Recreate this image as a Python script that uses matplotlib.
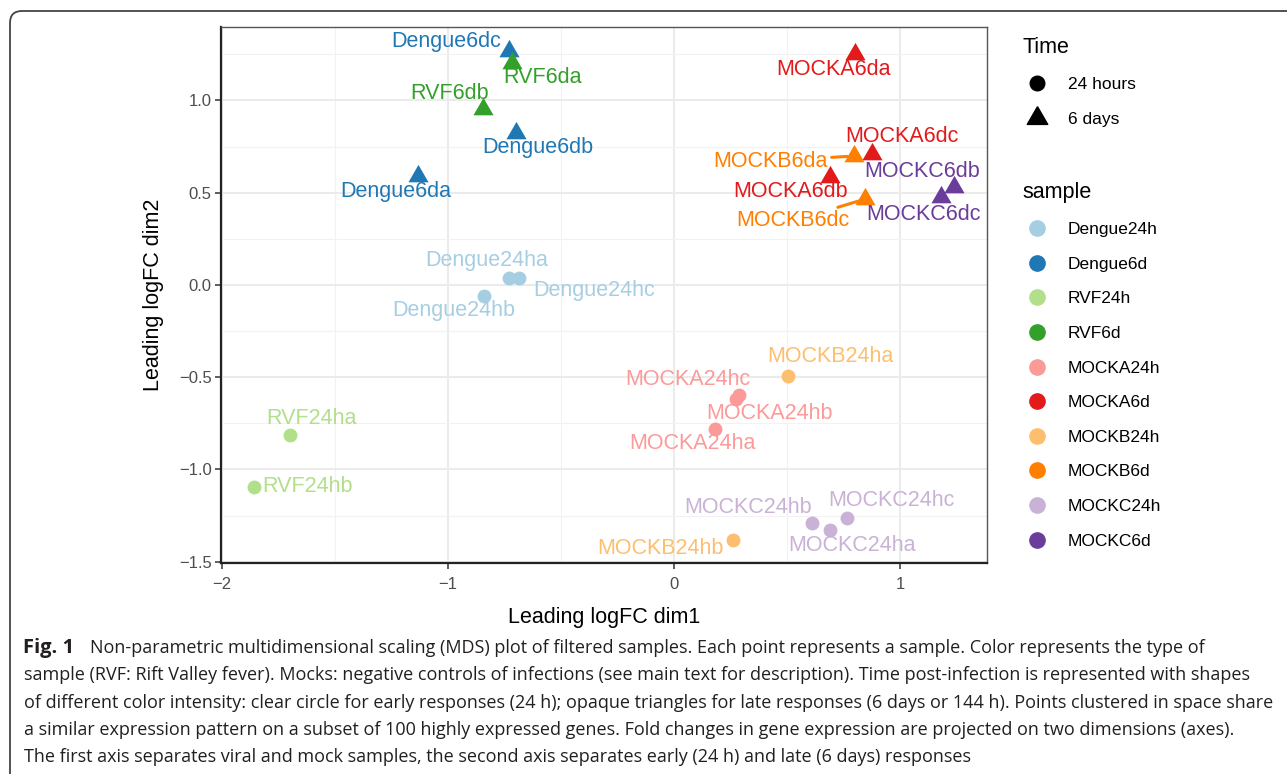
import matplotlib
matplotlib.use("Agg")
import matplotlib.pyplot as plt
from matplotlib.lines import Line2D
from matplotlib.patches import FancyBboxPatch
from matplotlib.transforms import IdentityTransform

plt.rcParams['font.family'] = ['Liberation Sans', 'DejaVu Sans']

# sample groups and their colours (ColorBrewer "Paired")
samples = ['Dengue24h', 'Dengue6d', 'RVF24h', 'RVF6d', 'MOCKA24h',
           'MOCKA6d', 'MOCKB24h', 'MOCKB6d', 'MOCKC24h', 'MOCKC6d']
colors = ['#A6CEE3', '#1F78B4', '#B2DF8A', '#33A02C', '#FB9A99',
          '#E31A1C', '#FDBF6F', '#FF7F00', '#CAB2D6', '#6A3D9A']

# MDS coordinates
names = ['Dengue24ha', 'Dengue24hb', 'Dengue24hc', 'Dengue6da', 'Dengue6db', 'Dengue6dc',
         'RVF24ha', 'RVF24hb', 'RVF6da', 'RVF6db',
         'MOCKA24ha', 'MOCKA24hb', 'MOCKA24hc', 'MOCKA6da', 'MOCKA6db', 'MOCKA6dc',
         'MOCKB24ha', 'MOCKB24hb', 'MOCKB6da', 'MOCKB6dc',
         'MOCKC24ha', 'MOCKC24hb', 'MOCKC24hc', 'MOCKC6db', 'MOCKC6dc']
group = ['Dengue24h'] * 3 + ['Dengue6d'] * 3 + ['RVF24h'] * 2 + ['RVF6d'] * 2 + \
        ['MOCKA24h'] * 3 + ['MOCKA6d'] * 3 + ['MOCKB24h'] * 2 + ['MOCKB6d'] * 2 + \
        ['MOCKC24h'] * 3 + ['MOCKC6d'] * 2
dim1 = [-0.730, -0.842, -0.686, -1.132, -0.699, -0.729,
        -1.698, -1.858, -0.718, -0.846,
        0.182, 0.275, 0.286, 0.802, 0.689, 0.876,
        0.504, 0.259, 0.798, 0.847,
        0.692, 0.611, 0.766, 1.241, 1.183]
dim2 = [0.040, -0.062, 0.040, 0.592, 0.825, 1.270,
        -0.815, -1.096, 1.204, 0.953,
        -0.780, -0.618, -0.598, 1.251, 0.585, 0.711,
        -0.491, -1.384, 0.699, 0.466,
        -1.329, -1.291, -1.262, 0.531, 0.478]

# repel-style label offsets (pixels)
lab_dx = [-22, -30, 75, -22, 22, -63, 21, 53, 31, -33,
          -23, 33, -51, -22, -39, 30, 42, -72, -84, -73,
          22, -64, 44, -32, -18]
lab_dy = [17, -14, -13, -16, -15, 9, 17, 1, -15, 16,
          -15, -15, 16, -15, -14, 17, 19, -8, -5, -22,
          -15, 16, 17, 15, -18]
with_segment = ['MOCKB6da', 'MOCKB6dc']

caption = [
    "sample (RVF: Rift Valley fever). Mocks: negative controls of infections (see main text for description). Time post-infection is represented with shapes",
    "of different color intensity: clear circle for early responses (24 h); opaque triangles for late responses (6 days or 144 h). Points clustered in space share",
    "a similar expression pattern on a subset of 100 highly expressed genes. Fold changes in gene expression are projected on two dimensions (axes).",
    "The first axis separates viral and mock samples, the second axis separates early (24 h) and late (6 days) responses",
]
caption_first = "Non-parametric multidimensional scaling (MDS) plot of filtered samples. Each point represents a sample. Color represents the type of"

W, H = 1287, 774
fig = plt.figure(figsize=(W / 100, H / 100), dpi=100)
fig.patch.set_facecolor('white')

# equilateral triangle like R's pch 17
tri = [(0, 0.577), (-0.5, -0.289), (0.5, -0.289), (0, 0.577)]

ax = fig.add_axes([220.7 / W, 1 - 563.3 / H, (987 - 220.7) / W, (563.3 - 26.7) / H])
ax.set_xlim(-2.006, 1.385)
ax.set_ylim(-1.509, 1.40)
ax.set_xticks([-2, -1, 0, 1])
ax.set_yticks([-1.5, -1.0, -0.5, 0.0, 0.5, 1.0])
ax.set_xticks([-1.5, -0.5, 0.5], minor=True)
ax.set_yticks([-1.25, -0.75, -0.25, 0.25, 0.75, 1.25], minor=True)
ax.set_xticklabels(['\u22122', '\u22121', '0', '1'])
ax.set_yticklabels(['\u22121.5', '\u22121.0', '\u22120.5', '0.0', '0.5', '1.0'])
ax.grid(which='major', color='#EBEBEB', lw=1.5)
ax.grid(which='minor', color='#F2F2F2', lw=0.8)
ax.set_axisbelow(True)
ax.tick_params(which='major', length=4.5, width=1.1, color='#333333',
               labelsize=12, labelcolor='#4D4D4D')
ax.tick_params(axis='x', pad=5.5)
ax.tick_params(axis='y', pad=2)
ax.tick_params(which='minor', length=0)
for s in ['top', 'right']:
    ax.spines[s].set_color('#555555')
    ax.spines[s].set_linewidth(1.0)
for s in ['left', 'bottom']:
    ax.spines[s].set_color('#222222')
    ax.spines[s].set_linewidth(1.6)

ax.set_xlabel('Leading logFC dim1', fontsize=15.5, va='center')
ax.set_ylabel('Leading logFC dim2', fontsize=15.5, va='center')
ax.xaxis.set_label_coords(0.5, (563.3 - 618) / 536.6)
ax.yaxis.set_label_coords((153 - 220.7) / 766.3, 0.5)

for i, nm in enumerate(names):
    c = colors[samples.index(group[i])]
    is6d = '6d' in group[i]
    if is6d:
        ax.scatter(dim1[i], dim2[i], marker=tri, s=280, color=c, lw=0, zorder=3)
    else:
        ax.scatter(dim1[i], dim2[i], marker='o', s=100, color=c, lw=0, zorder=3)
    kw = {}
    if nm in with_segment:
        kw['arrowprops'] = dict(arrowstyle='-', color=c, lw=2.2, shrinkA=1, shrinkB=5)
    ax.annotate(nm, (dim1[i], dim2[i]), xytext=(lab_dx[i], lab_dy[i]),
                textcoords='offset pixels', ha='center', va='center',
                fontsize=15.5, color=c, zorder=4, **kw)

# legends
time_handles = [Line2D([], [], ls='', marker='o', color='black', markersize=10.5),
                Line2D([], [], ls='', marker=tri, color='black', markersize=17)]
leg1 = fig.legend(time_handles, ['24 hours', '6 days'], title='Time',
                  loc='upper left', bbox_to_anchor=(1014 / W, 1 - 28 / H),
                  frameon=False, fontsize=12.5, title_fontsize=15.5, alignment='left',
                  handlelength=1.6, handletextpad=1.0, labelspacing=1.12, borderpad=0)
leg1._legend_box.sep = 14
sample_handles = [Line2D([], [], ls='', marker='o', color=c, markersize=11) for c in colors]
leg2 = fig.legend(sample_handles, samples, title='sample',
                  loc='upper left', bbox_to_anchor=(1014 / W, 1 - 173 / H),
                  frameon=False, fontsize=12.5, title_fontsize=15.5, alignment='left',
                  handlelength=1.6, handletextpad=1.0, labelspacing=1.12, borderpad=0)
leg2._legend_box.sep = 14

# frame around the figure panel
box = FancyBboxPatch((10, -40), 1400, H - 11 + 40, boxstyle='round,pad=0,rounding_size=12',
                     transform=IdentityTransform(), fill=False, ec='#444444', lw=1.3)
fig.patches.append(box)

# caption
cap_font = ['Open Sans', 'DejaVu Sans']
cap_col = '#231F20'
renderer = fig.canvas.get_renderer()
probe = fig.text(0, 0, caption[1], fontsize=10, family=cap_font)
w = probe.get_window_extent(renderer).width
probe.remove()
cs = 10 * (1275 - 24) / w

ys = [648, 675.5, 703, 730, 757]
fig.text(23 / W, 1 - ys[0] / H, 'Fig. 1', fontsize=cs * 1.12, family=cap_font,
         weight='bold', color=cap_col, va='center')
fig.text(90 / W, 1 - ys[0] / H, caption_first, fontsize=cs, family=cap_font,
         color=cap_col, va='center')
for k, line in enumerate(caption):
    fig.text(24 / W, 1 - ys[k + 1] / H, line, fontsize=cs, family=cap_font,
             color=cap_col, va='center')

fig.savefig('out.png', dpi=100)
